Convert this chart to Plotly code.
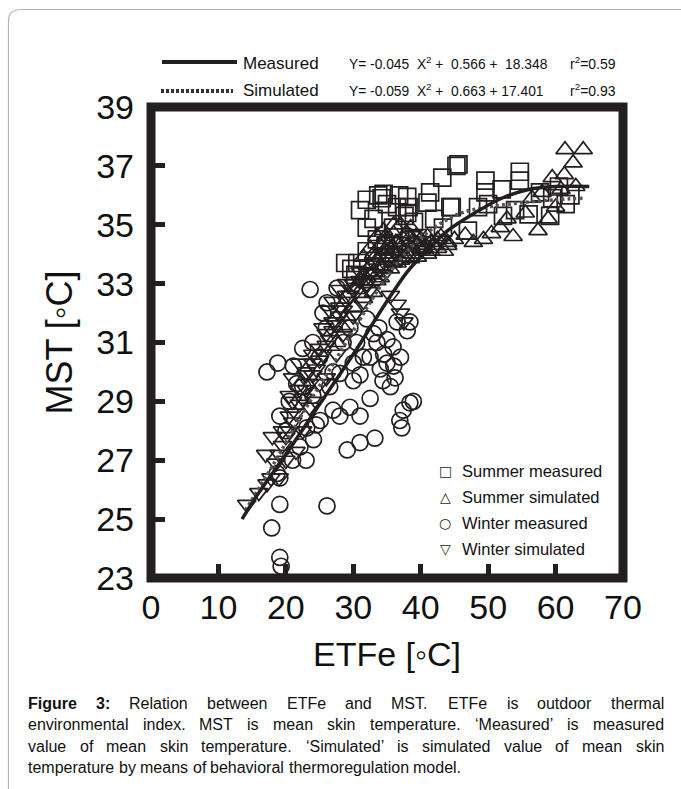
import plotly.graph_objects as go

# ---------------- data ----------------
summer_meas_x = [45.6, 45.3, 43.2, 54.7, 54.7, 49.6, 49.6, 32.0, 33.7, 35.0, 34.2, 38.0, 38.2, 41.0, 41.4,
                 44.4, 31.0, 50.0, 57.7, 59.5, 62.2, 32.0, 35.9, 33.5, 56.0, 54.0, 52.2, 28.8, 30.6, 32.0,
                 39.5, 43.3, 44.6, 59.2, 36.5, 37.6, 30.3, 29.7, 34.8, 36.0, 38.5, 40.2, 47.0, 48.5, 52.0,
                 60.5, 61.5, 42.0, 34.5, 36.8, 38.0, 33.0, 39.0]
summer_meas_y = [37.05, 37.0, 36.6, 36.8, 36.5, 36.5, 36.1, 35.85, 36.0, 35.7, 35.9, 35.95, 35.6, 35.75, 36.1,
                 35.6, 35.5, 35.7, 36.1, 35.9, 36.0, 34.9, 34.9, 34.5, 35.35, 35.5, 35.3, 33.7, 33.7, 34.1,
                 34.55, 34.9, 35.6, 35.3, 35.6, 35.3, 33.3, 33.5, 34.3, 33.9, 34.0, 34.3, 34.8, 35.6, 36.2,
                 36.3, 35.7, 35.2, 36.05, 36.0, 35.4, 35.2, 35.1]

summer_sim_x = [61.4, 64.1, 62.6, 59.5, 61.3, 60.8, 58.9, 57.4, 53.7, 51.8, 49.3, 50.5, 46.6, 47.8, 52.8,
                55.5, 56.5, 58.0, 63.0, 60.0,
                30.5, 31.0, 31.5, 32.0, 32.5, 33.0, 33.5, 34.0, 34.5, 35.0, 35.5, 36.0, 36.5, 37.0, 37.5,
                38.0, 38.5, 39.0, 39.5, 40.0, 40.5, 41.0, 41.5, 42.0, 42.5, 43.0, 44.0, 45.0, 33.5, 34.5,
                35.0, 36.0, 37.0, 38.5, 30.0, 29.0, 31.5, 36.5, 34.0, 35.5, 39.5, 41.0, 43.5, 37.8, 33.0,
                28.5, 27.5, 32.5, 33.0, 34.0, 35.0, 36.0, 37.0, 38.0, 39.0, 40.0, 41.5, 42.5, 44.0, 36.0,
                33.5, 31.5, 32.8, 34.3, 35.8, 37.3, 38.8, 40.3, 34.8, 36.3, 37.8, 39.3, 33.2, 35.2]
summer_sim_y = [37.55, 37.55, 37.1, 36.6, 36.7, 36.2, 35.2, 34.8, 34.6, 34.9, 34.5, 34.7, 34.65, 34.4, 35.2,
                35.4, 35.9, 36.1, 36.3, 35.6,
                32.8, 33.1, 33.3, 33.0, 33.6, 33.4, 33.8, 33.6, 34.0, 33.9, 34.2, 34.1, 34.4, 34.2, 34.5,
                34.3, 34.6, 34.4, 34.3, 34.5, 34.2, 34.6, 34.4, 34.3, 34.5, 34.6, 34.4, 34.5, 34.6, 34.8,
                34.5, 34.7, 35.0, 34.9, 32.2, 31.9, 32.5, 33.7, 33.2, 33.5, 33.9, 34.0, 34.1, 33.9, 32.7,
                31.5, 31.0, 34.2, 34.0, 34.3, 34.1, 34.0, 33.8, 34.0, 34.1, 34.2, 34.1, 34.2, 34.3, 35.0,
                33.1, 33.9, 33.3, 33.5, 33.7, 33.9, 34.0, 34.3, 34.6, 34.4, 34.7, 34.6, 33.9, 34.3]

winter_meas_x = [23.6, 27.6, 26.1, 25.5, 17.2, 18.8, 21.1, 21.6, 28.0, 30.0, 31.0, 33.0, 33.5, 35.0, 35.9,
                 32.5, 34.0, 35.0, 36.0, 34.4, 35.5, 38.0, 38.4, 38.4, 37.4, 36.9, 37.2, 38.9, 23.1, 25.1,
                 27.0, 29.5, 31.0, 32.5, 29.1, 31.0, 33.2, 24.1, 22.1, 19.1, 20.0, 18.7, 19.1, 19.1, 26.1,
                 17.9, 19.1, 19.3, 22.5, 24.0, 25.0, 26.0, 27.0, 28.5, 29.5, 30.5, 31.5, 20.5, 22.5, 24.0,
                 26.5, 32.0, 33.8, 36.5, 34.5, 36.2, 37.0, 21.0, 23.0, 24.5, 28.0, 30.0]
winter_meas_y = [32.8, 32.85, 32.35, 32.0, 30.0, 30.3, 30.2, 29.6, 29.95, 29.7, 29.9, 31.3, 31.0, 31.1, 30.85,
                 30.5, 30.1, 30.3, 30.2, 29.7, 29.5, 31.4, 31.7, 28.95, 28.7, 28.35, 28.1, 29.0, 28.1, 28.35,
                 28.7, 28.8, 28.5, 29.1, 27.35, 27.6, 27.75, 27.7, 27.45, 28.5, 28.0, 26.55, 26.4, 25.5, 25.45,
                 24.7, 23.7, 23.4, 30.8, 31.0, 30.5, 31.5, 30.0, 31.0, 31.5, 31.0, 30.5, 29.0, 29.5, 29.2,
                 29.5, 31.8, 31.5, 31.7, 30.6, 29.8, 30.5, 27.0, 27.0, 28.2, 28.5, 30.3]

winter_sim_x = [14.2, 17.2, 17.8, 18.5, 19.0, 19.5, 20.0, 20.5, 21.0, 21.5, 22.0, 22.5, 23.0, 23.5, 24.0,
                24.5, 25.0, 25.5, 26.0, 26.5, 27.0, 27.5, 28.0, 28.5, 29.0, 29.5, 30.0, 31.0, 32.0, 33.0,
                36.5, 37.0, 37.5, 35.5, 20.5, 21.0, 22.0, 23.0, 24.0, 22.5, 24.5, 26.0, 21.5, 25.5, 26.5,
                27.0, 28.0, 29.0, 19.0, 20.0, 23.5, 25.0, 27.5, 28.5, 30.0, 31.5, 32.5, 33.5, 34.5, 35.0,
                17.0, 18.0, 16.0, 21.0, 22.0, 23.0, 24.0, 25.0, 26.0, 27.0, 28.0, 29.0, 30.0, 31.0, 32.0,
                19.5, 20.5]
winter_sim_y = [25.5, 26.2, 26.4, 26.9, 27.2, 27.5, 27.8, 28.0, 28.3, 28.6, 28.9, 29.1, 29.4, 29.6, 29.9,
                30.1, 30.4, 30.6, 30.9, 31.1, 31.4, 31.6, 31.9, 32.1, 32.4, 32.6, 32.8, 33.1, 33.4, 33.7,
                32.3, 32.0, 31.7, 32.6, 29.2, 29.8, 30.3, 30.0, 30.6, 28.0, 29.0, 29.8, 27.3, 31.5, 32.1,
                32.4, 32.8, 33.0, 26.4, 27.0, 28.8, 29.6, 30.6, 31.3, 31.9, 32.4, 32.8, 33.1, 33.3, 33.6,
                27.2, 27.8, 25.9, 29.0, 29.4, 29.9, 30.3, 30.8, 31.3, 31.7, 32.2, 32.6, 33.0, 33.4, 33.0,
                28.0, 28.5]

measured_fit_x = [13.5, 16, 20, 25, 30, 35, 38, 40, 44, 48, 52, 56, 60, 65]
measured_fit_y = [25.0, 25.9, 27.2, 28.9, 30.6, 32.4, 33.4, 33.9, 34.8, 35.4, 35.9, 36.2, 36.3, 36.3]

simulated_fit_x = [14, 18, 22, 26, 30, 34, 38, 42, 46, 50, 55, 60, 64]
simulated_fit_y = [25.3, 26.8, 28.4, 29.9, 31.4, 32.9, 34.1, 34.9, 35.4, 35.6, 35.75, 35.85, 35.9]

x_ticks = [0, 10, 20, 30, 40, 50, 60, 70]
y_ticks = [23, 25, 27, 29, 31, 33, 35, 37, 39]

fit_rows = [
    ("Measured", "Y=\u00a0-0.045\u00a0\u00a0X<sup>2</sup>\u00a0+\u00a0\u00a00.566\u00a0+\u00a0\u00a018.348", "r<sup>2</sup>=0.59"),
    ("Simulated", "Y=\u00a0-0.059\u00a0\u00a0X<sup>2</sup>\u00a0+\u00a0\u00a00.663\u00a0+\u00a017.401", "r<sup>2</sup>=0.93"),
]
legend_labels = ["Summer measured", "Summer simulated", "Winter measured", "Winter simulated"]
legend_glyphs = ["\u25a1", "\u25b3", "\u25cb", "\u25bd"]

caption_lines = [
    "Figure 3: Relation between ETFe and MST. ETFe is outdoor thermal",
    "environmental index. MST is mean skin temperature. \u2018Measured\u2019 is measured",
    "value of mean skin temperature. \u2018Simulated\u2019 is simulated value of mean skin",
    "temperature by means of behavioral thermoregulation model.",
]

# ---------------- layout helpers ----------------
W, H = 681, 789
ML, MR, MT, MB = 151, 58, 107, 211
PW = W - ML - MR
PH = H - MT - MB
INK = "#231f20"
FONT = "Liberation Sans, Arial, Helvetica, sans-serif"


def px(x):
    return (x - ML) / PW


def py(y):
    return (H - MB - y) / PH


fig = go.Figure()

mk = dict(color=INK, line=dict(width=1.7))
fig.add_trace(go.Scatter(x=summer_meas_x, y=summer_meas_y, mode="markers", name="Summer measured",
                         marker=dict(symbol="square-open", size=17, **mk)))
fig.add_trace(go.Scatter(x=summer_sim_x, y=summer_sim_y, mode="markers", name="Summer simulated",
                         marker=dict(symbol="triangle-up-open", size=16, **mk)))
fig.add_trace(go.Scatter(x=winter_meas_x, y=winter_meas_y, mode="markers", name="Winter measured",
                         marker=dict(symbol="circle-open", size=16, **mk)))
fig.add_trace(go.Scatter(x=winter_sim_x, y=winter_sim_y, mode="markers", name="Winter simulated",
                         marker=dict(symbol="triangle-down-open", size=16, **mk)))
fig.add_trace(go.Scatter(x=simulated_fit_x, y=simulated_fit_y, mode="lines", name="Simulated",
                         line=dict(color="#555555", width=3.5, dash="3px,3px", shape="spline")))
fig.add_trace(go.Scatter(x=measured_fit_x, y=measured_fit_y, mode="lines", name="Measured",
                         line=dict(color=INK, width=3.5, shape="spline")))

axis_common = dict(showgrid=False, zeroline=False, showline=False, ticks="inside", ticklen=14,
                   tickwidth=5, tickcolor=INK, tickfont=dict(family=FONT, size=34, color="#111111"))
fig.update_xaxes(range=[0, 70], tickmode="array", tickvals=x_ticks, ticktext=[str(v) for v in x_ticks],
                 ticklabelstandoff=6,
                 title=dict(text="ETFe [\u25e6C]", font=dict(family=FONT, size=34, color="#111111"), standoff=17),
                 **axis_common)
fig.update_yaxes(range=[23, 39], tickmode="array", tickvals=y_ticks, ticktext=[str(v) for v in y_ticks],
                 ticklabelstandoff=16,
                 title=dict(text="MST [\u25e6C]", font=dict(family=FONT, size=36, color="#111111"), standoff=12),
                 **axis_common)

shapes = []
# heavy plot frame
shapes.append(dict(type="rect", xref="paper", yref="paper", x0=0, x1=1, y0=0, y1=1,
                   line=dict(color=INK, width=9), layer="above"))
# rounded outer page frame
path = "M {a},{b} L {a},{c} Q {a},{d} {e},{d} L {f},{d}".format(
    a=px(8.5), b=py(820), c=py(21), d=py(9.5), e=px(21), f=px(720))
shapes.append(dict(type="path", xref="paper", yref="paper", path=path,
                   line=dict(color="#b5b5b5", width=1.2), layer="below"))
# top legend line samples
shapes.append(dict(type="line", xref="paper", yref="paper", x0=px(162), x1=px(237), y0=py(62), y1=py(62),
                   line=dict(color=INK, width=4)))
shapes.append(dict(type="line", xref="paper", yref="paper", x0=px(161), x1=px(233), y0=py(91), y1=py(91),
                   line=dict(color="#333333", width=4, dash="3px,2px")))

ann = []
row_y = [63, 90]
for (lab, eq, r2), yy in zip(fit_rows, row_y):
    ann.append(dict(text=lab, x=px(242), y=py(yy), xref="paper", yref="paper", xanchor="left",
                    yanchor="middle", showarrow=False, borderpad=0,
                    font=dict(family=FONT, size=17, color="#111111")))
    ann.append(dict(text=eq, x=px(348), y=py(yy), xref="paper", yref="paper", xanchor="left",
                    yanchor="middle", showarrow=False, borderpad=0,
                    font=dict(family=FONT, size=13.8, color="#111111")))
    ann.append(dict(text=r2, x=px(569), y=py(yy), xref="paper", yref="paper", xanchor="left",
                    yanchor="middle", showarrow=False, borderpad=0,
                    font=dict(family=FONT, size=14, color="#111111")))

leg_y = [471, 497, 523, 549]
for lab, g, yy in zip(legend_labels, legend_glyphs, leg_y):
    ann.append(dict(text=g, x=px(445), y=py(yy), xref="paper", yref="paper", xanchor="center",
                    yanchor="middle", showarrow=False, borderpad=0,
                    font=dict(family="DejaVu Sans", size=14, color=INK)))
    ann.append(dict(text=lab, x=px(461), y=py(yy), xref="paper", yref="paper", xanchor="left",
                    yanchor="middle", showarrow=False, borderpad=0,
                    font=dict(family=FONT, size=16.5, color="#111111")))

# ---- caption, justified word by word using Arial/Liberation Sans metrics ----
REG = {' ': 278, '.': 278, ':': 278, '\u2018': 222, '\u2019': 222}
for c in "0123456789":
    REG[c] = 556
for c, w in zip("abcdefghijklmnopqrstuvwxyz",
                [556, 556, 500, 556, 556, 278, 556, 556, 222, 222, 500, 222, 833, 556, 556, 556, 556, 333,
                 500, 278, 556, 500, 722, 500, 500, 500]):
    REG[c] = w
for c, w in zip("ABCDEFGHIJKLMNOPQRSTUVWXYZ",
                [667, 667, 722, 722, 667, 611, 778, 722, 278, 500, 667, 556, 833, 722, 778, 667, 778, 722,
                 667, 611, 722, 667, 944, 667, 667, 611]):
    REG[c] = w
BOLD = {'F': 611, 'i': 278, 'g': 611, 'u': 611, 'r': 389, 'e': 556, '3': 556, ':': 333, ' ': 278}

CFS = 16
CL, CR = 27, 663
cap_y = [703, 724.5, 746, 767.5]
for li, (line, yy) in enumerate(zip(caption_lines, cap_y)):
    words = line.split(" ")
    items = []
    for wi, w in enumerate(words):
        bold = (li == 0 and wi < 2)
        table = BOLD if bold else REG
        wd = sum(table.get(ch, 556) for ch in w) * CFS / 1000
        items.append((w, bold, wd))
    total = sum(it[2] for it in items)
    if li < 3:
        gap = (CR - CL - total) / (len(items) - 1)
    else:
        gap = 278 * CFS / 1000
    xx = CL
    for w, bold, wd in items:
        ann.append(dict(text=("<b>%s</b>" % w) if bold else w, x=px(xx), y=py(yy), xref="paper",
                        yref="paper", xanchor="left", yanchor="middle", showarrow=False, borderpad=0,
                        font=dict(family=FONT, size=CFS, color="#111111")))
        xx += wd + gap

fig.update_layout(width=W, height=H, margin=dict(l=ML, r=MR, t=MT, b=MB, autoexpand=False),
                  paper_bgcolor="white", plot_bgcolor="white", showlegend=False,
                  shapes=shapes, annotations=ann, font=dict(family=FONT))

fig.write_html("out.html", config={"displayModeBar": False},
               post_script="document.body.style.margin='0';document.body.style.overflow='hidden';")
